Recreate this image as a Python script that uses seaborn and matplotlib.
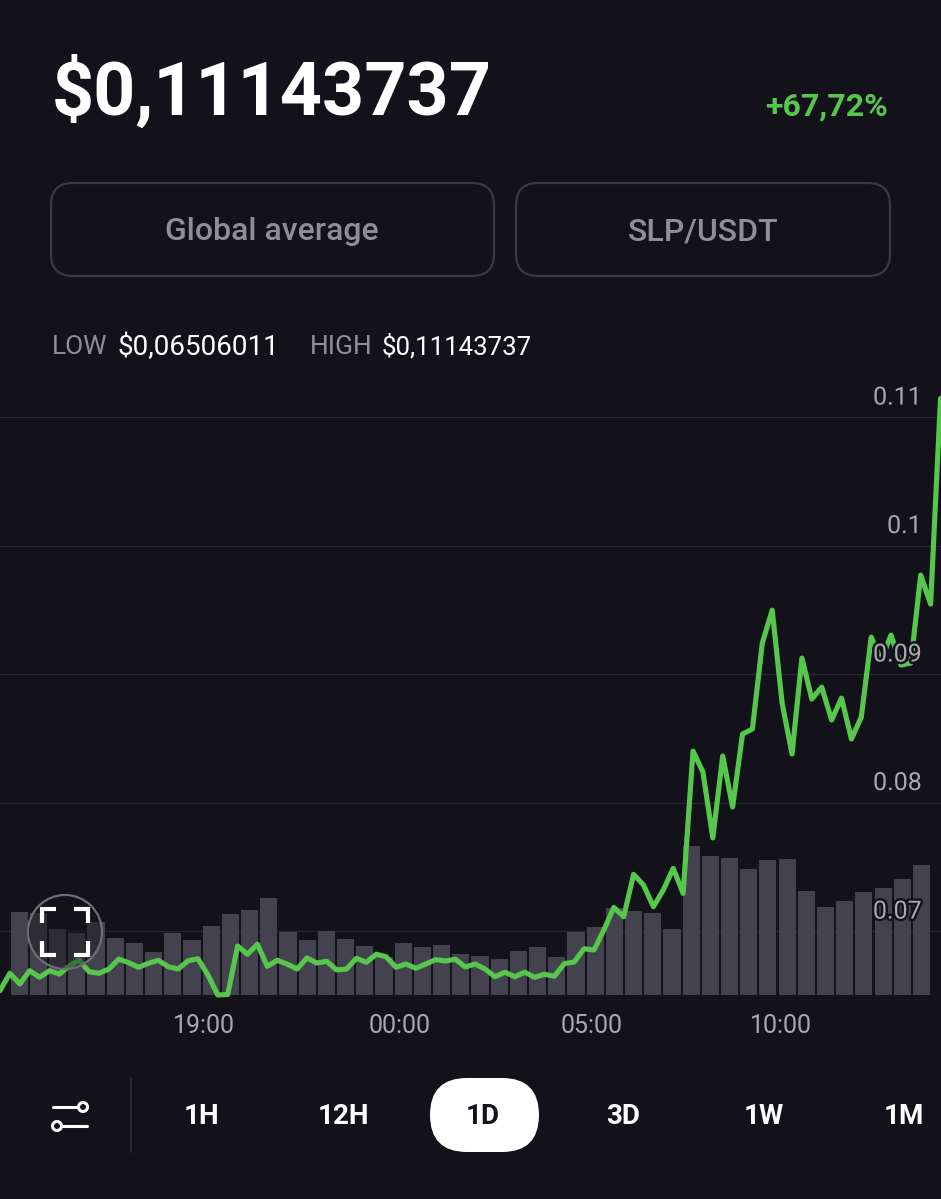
import numpy as np
import pandas as pd
import seaborn as sns
import matplotlib.pyplot as plt
import matplotlib.patheffects as pe
from matplotlib.patches import Circle, FancyBboxPatch

# ---------- data ----------
price = [
    .06536, .06671, .06588, .06691, .0664, .06691, .06665, .06728, .06774, .06683,
    .06671, .06704, .06782, .06753, .06718, .06749, .06772, .06722, .06704, .06769,
    .06784, .06658, .06502, .06506, .06883, .06819, .06897, .06725, .06772, .06743,
    .06704, .0679, .06751, .06764, .06697, .06704, .06788, .06756, .06819, .068,
    .06718, .06743, .0671, .06743, .06777, .06767, .0678, .0672, .06743, .06704,
    .06644, .06679, .06644, .06679, .0664, .06663, .06648, .06746, .06759, .06862,
    .06852, .07008, .07184, .07111, .07441, .07358, .07189, .07319, .07488, .07293,
    .084, .08237, .07724, .08362, .07965, .08533, .08572, .09241, .09497, .08774,
    .08377, .09124, .08805, .08898, .08642, .08813, .08494, .08665, .09287, .09108,
    .09303, .0907, .09085, .0977, .09544, .11144,
]
volume = [
    82.7, 81.7, 66, 61.7, 73.3, 56.7, 52, 42.7, 62, 54.7, 68.7, 81,
    84.7, 97, 63, 54.7, 63.7, 56.3, 48.7, 38.3, 51.7, 48, 50, 41.3,
    39.3, 36, 43.7, 47.7, 37.7, 63, 67.7, 86.7, 83.7, 82, 65.7, 148.7,
    138.7, 136.7, 125.7, 134.7, 135.7, 104.3, 88, 94.3, 103, 107, 116.3, 129.7,
]
price_ticks = [0.07, 0.08, 0.09, 0.1, 0.11]
price_labels = ["0.07", "0.08", "0.09", "0.1", "0.11"]
time_ticks = [319, 625, 925, 1220]
time_labels = ["19:00", "00:00", "05:00", "10:00"]
periods = ["1H", "12H", "1D", "3D", "1W", "1M"]

# minutes since the left edge of the chart
line_df = pd.DataFrame({"minute": np.arange(len(price)) * 15.47, "price": price})
bar_df = pd.DataFrame({"minute": (np.arange(len(volume)) + 1) * 30, "volume": volume})

BG = "#13121b"
GREEN = "#56c74c"
BAR = "#45424f"
GRID = "#272630"
GREY = "#a9a8ae"
MUTED = "#8f8e96"
WHITE = "#ffffff"

sns.set_theme(style="dark", rc={"figure.facecolor": BG, "axes.facecolor": BG})
plt.rcParams["font.family"] = ["Roboto", "DejaVu Sans"]

fig = plt.figure(figsize=(9.41, 11.99), dpi=100)

# ---------- chart: grid below, bars in the middle, line on top ----------
ax = fig.add_axes([0, 204 / 1199, 1, 615 / 1199])
ax_vol = ax.twinx()
ax_line = ax.twinx()
ax.set_zorder(0)
ax_vol.set_zorder(1)
ax_line.set_zorder(2)

sns.barplot(data=bar_df, x="minute", y="volume", native_scale=True, width=0.89,
            color=BAR, saturation=1, linewidth=0, edgecolor="none", ax=ax_vol)
sns.lineplot(data=line_df, x="minute", y="price", color=GREEN, linewidth=3.7, ax=ax_line,
             clip_on=False, solid_joinstyle="round", solid_capstyle="round")

ax.set_xlim(0, 1470.4)
ax_vol.set_ylim(0, 615)
for a in (ax, ax_line):
    a.set_ylim(0.06502, 0.11288)
for a in (ax, ax_vol, ax_line):
    a.set_xlabel("")
    a.set_ylabel("")
    sns.despine(ax=a, left=True, bottom=True, right=True, top=True)
ax_vol.tick_params(right=False, labelright=False)
ax_line.tick_params(right=False, labelright=False)
ax_vol.grid(False)
ax_line.grid(False)

ax.set_yticks(price_ticks)
ax.tick_params(left=False, labelleft=False, bottom=False)
ax.grid(axis="y", color=GRID, linewidth=1)
ax.grid(axis="x", visible=False)
ax.set_xticks(time_ticks)
ax.set_xticklabels(time_labels, color=GREY, fontsize=18)
ax.tick_params(axis="x", pad=8)

# price labels sit just above their grid line, with a dark halo
for val, lab in zip(price_ticks, price_labels):
    ax_line.annotate(lab, xy=(1, val), xycoords=ax_line.get_yaxis_transform(),
                     xytext=(-14, 14), textcoords="offset points", ha="right", va="center",
                     color=GREY, fontsize=18, zorder=5,
                     path_effects=[pe.withStroke(linewidth=3.5, foreground=BG)])

# ---------- app chrome, in pixel coordinates ----------
ui = fig.add_axes([0, 0, 1, 1])
ui.set_zorder(3)
ui.patch.set_visible(False)
ui.set_xlim(0, 941)
ui.set_ylim(1199, 0)
ui.axis("off")


def rounded(x0, y0, x1, y1, r, **kw):
    ui.add_patch(FancyBboxPatch((x0 + r, y0 + r), x1 - x0 - 2 * r, y1 - y0 - 2 * r,
                                boxstyle=f"round,pad={r},rounding_size={r}", **kw))


ui.text(52, 93, "$0,11143737", color=WHITE, fontsize=53, fontweight="bold", va="center", ha="left")
ui.text(888, 107, "+67,72%", color=GREEN, fontsize=23, fontweight="bold", va="center", ha="right")

rounded(51, 183, 494, 276, 22, facecolor="none", edgecolor="#3a3944", linewidth=1.6)
rounded(516, 183, 890, 276, 22, facecolor="none", edgecolor="#3a3944", linewidth=1.6)
ui.text(272, 232, "Global average", color=MUTED, fontsize=23, fontweight="medium", ha="center", va="center")
ui.text(703, 232, "SLP/USDT", color=MUTED, fontsize=23, fontweight="medium", ha="center", va="center")

ui.text(52, 347, "LOW", color=MUTED, fontsize=19, ha="left", va="center")
ui.text(118, 347, "$0,06506011", color=WHITE, fontsize=20, ha="left", va="center")
ui.text(310, 347, "HIGH", color=MUTED, fontsize=19, ha="left", va="center")
ui.text(382, 347, "$0,11143737", color=WHITE, fontsize=18.5, ha="left", va="center")

# full screen button over the chart
ui.add_patch(Circle((65, 932), 37, facecolor=BG, alpha=0.45, edgecolor="none"))
ui.add_patch(Circle((65, 932), 37, facecolor="none", edgecolor="#6f6e75", linewidth=1.6))
for cx, cy, dx, dy in [(42, 909, 1, 1), (88, 909, -1, 1), (42, 955, 1, -1), (88, 955, -1, -1)]:
    ui.plot([cx + 14 * dx, cx, cx], [cy, cy, cy + 14 * dy], color=WHITE, linewidth=3,
            solid_capstyle="butt", solid_joinstyle="miter")

# bottom bar
ui.plot([53, 78], [1107, 1107], color=WHITE, linewidth=2.2, solid_capstyle="round")
ui.add_patch(Circle((83, 1107), 4.5, facecolor="none", edgecolor=WHITE, linewidth=2.2))
ui.plot([61, 87], [1126, 1126], color=WHITE, linewidth=2.2, solid_capstyle="round")
ui.add_patch(Circle((57, 1126), 4.5, facecolor="none", edgecolor=WHITE, linewidth=2.2))
ui.plot([131, 131], [1078, 1152], color="#2a2933", linewidth=1.5)
rounded(430, 1078, 539, 1152, 37, facecolor=WHITE, edgecolor="none")
for lab, x in zip(periods, [202, 343, 483, 623, 764, 904]):
    ui.text(x, 1117, lab, color=BG if lab == "1D" else WHITE, fontsize=20, fontweight="bold",
            ha="center", va="center")

fig.savefig("out.png", dpi=100, facecolor=BG)
